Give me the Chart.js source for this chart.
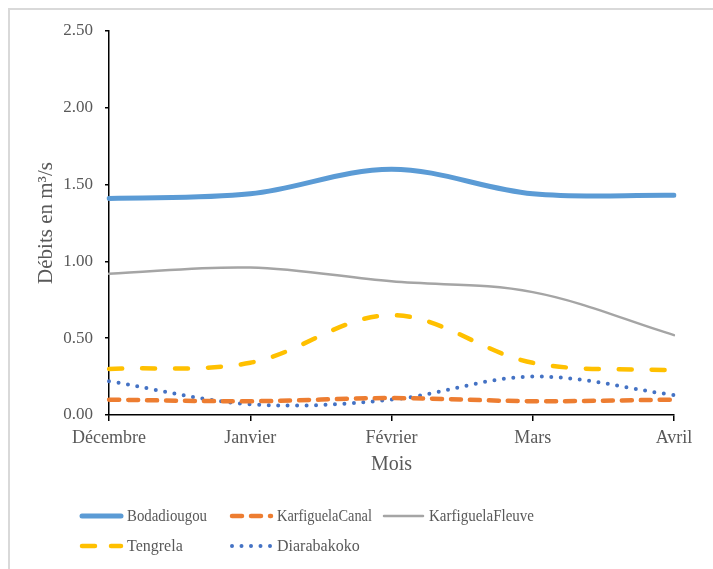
<!DOCTYPE html>
<html>
<head>
<meta charset="utf-8">
<script src="https://cdn.jsdelivr.net/npm/chart.js@4"></script>
<style>
  html, body { margin: 0; padding: 0; background: #fff; }
  #wrap { position: relative; width: 713px; height: 569px; }
</style>
</head>
<body>
<div id="wrap"><canvas id="c" width="713" height="569"></canvas></div>
<script>
// Monthly discharge (m³/s) for five stations
const months = ['Décembre', 'Janvier', 'Février', 'Mars', 'Avril'];
const bodadiougou = [1.41, 1.44, 1.60, 1.44, 1.43];
const karfiguelaCanal = [0.10, 0.09, 0.11, 0.09, 0.10];
const karfiguelaFleuve = [0.92, 0.96, 0.87, 0.80, 0.52];
const tengrela = [0.30, 0.34, 0.65, 0.34, 0.29];
const diarabakoko = [0.22, 0.07, 0.10, 0.25, 0.13];
const yTicks = [0, 0.5, 1.0, 1.5, 2.0, 2.5];

const serif = '"Liberation Serif", "Times New Roman", serif';
const textGrey = '#595959';

const datasets = [
  { label: 'Bodadiougou', data: bodadiougou, borderColor: '#5B9BD5', borderWidth: 5,
    borderDash: [], borderCapStyle: 'round', legendCol: 0, legendRow: 0 },
  { label: 'KarfiguelaCanal', data: karfiguelaCanal, borderColor: '#ED7D31', borderWidth: 4.5,
    borderDash: [10, 9], borderCapStyle: 'round', legendCol: 1, legendRow: 0 },
  { label: 'KarfiguelaFleuve', data: karfiguelaFleuve, borderColor: '#A5A5A5', borderWidth: 2.5,
    borderDash: [], borderCapStyle: 'round', legendCol: 2, legendRow: 0 },
  { label: 'Tengrela', data: tengrela, borderColor: '#FFC000', borderWidth: 4.5,
    borderDash: [13, 20], borderCapStyle: 'round', legendCol: 0, legendRow: 1 },
  { label: 'Diarabakoko', data: diarabakoko, borderColor: '#4472C4', borderWidth: 4,
    borderDash: [0, 9.5], borderCapStyle: 'round', legendCol: 1, legendRow: 1 }
].map(d => Object.assign({ pointRadius: 0, pointHoverRadius: 0, tension: 0.35, fill: false }, d));

// White background and the light frame around the chart
const framePlugin = {
  id: 'frame',
  beforeDraw(chart) {
    const ctx = chart.ctx;
    ctx.save();
    ctx.fillStyle = '#fff';
    ctx.fillRect(0, 0, chart.width, chart.height);
    ctx.strokeStyle = '#D9D9D9';
    ctx.lineWidth = 2;
    ctx.beginPath();
    ctx.moveTo(9, chart.height + 5);
    ctx.lineTo(9, 9);
    ctx.lineTo(chart.width + 5, 9);
    ctx.stroke();
    ctx.restore();
  }
};

// Legend laid out in aligned columns below the plot
const gridLegend = {
  id: 'gridLegend',
  afterDraw(chart) {
    const ctx = chart.ctx;
    const colX = [80, 230, 382];
    const rowY = [516, 546];
    const sampleLen = 43;
    const textRoom = [80, 95, 105];
    ctx.save();
    chart.data.datasets.forEach(ds => {
      const x = colX[ds.legendCol];
      const y = rowY[ds.legendRow];
      ctx.strokeStyle = ds.borderColor;
      ctx.lineWidth = ds.borderWidth;
      ctx.lineCap = ds.borderCapStyle;
      ctx.setLineDash(ds.legendRow === 1 && ds.legendCol === 0 ? [13, 16] : ds.borderDash);
      ctx.beginPath();
      ctx.moveTo(x + 2, y);
      ctx.lineTo(x + sampleLen - 2, y);
      ctx.stroke();
      ctx.setLineDash([]);
      ctx.fillStyle = textGrey;
      ctx.font = '16px ' + serif;
      ctx.textBaseline = 'middle';
      ctx.textAlign = 'left';
      const label = ds.label;
      const w = Math.min(ctx.measureText(label).width, textRoom[ds.legendCol]);
      ctx.fillText(label, x + sampleLen + 4, y + 1, w);
    });
    ctx.restore();
  }
};

new Chart(document.getElementById('c'), {
  type: 'line',
  data: { labels: months, datasets },
  plugins: [framePlugin, gridLegend],
  options: {
    responsive: false,
    animation: false,
    layout: { padding: { left: 0, right: 39, top: 31, bottom: 80 } },
    plugins: { legend: { display: false }, tooltip: { enabled: false } },
    scales: {
      x: {
        offset: false,
        afterFit(scale) { scale.height = 74; },
        grid: { display: true, drawOnChartArea: false, drawTicks: true, tickLength: 6,
                color: '#000', lineWidth: 1.5 },
        border: { display: true, color: '#000', width: 1.5 },
        ticks: { color: textGrey, padding: 6, font: { family: serif, size: 18 } },
        title: { display: true, text: 'Mois', color: textGrey,
                 font: { family: serif, size: 20 }, padding: { top: 0, bottom: 12 } }
      },
      y: {
        min: 0, max: 2.5,
        afterFit(scale) { scale.width = 109; },
        afterBuildTicks(scale) { scale.ticks = yTicks.map(v => ({ value: v })); },
        grid: { display: true, drawOnChartArea: false, drawTicks: true, tickLength: 4,
                color: '#000', lineWidth: 1.5 },
        border: { display: true, color: '#000', width: 1.5 },
        ticks: { color: textGrey, padding: 12, font: { family: serif, size: 17 },
                 callback: v => Number(v).toFixed(2) },
        title: { display: true, text: 'Débits en m³/s', color: textGrey,
                 font: { family: serif, size: 21 }, padding: { top: 34, bottom: 0 } }
      }
    }
  }
});
</script>
</body>
</html>
